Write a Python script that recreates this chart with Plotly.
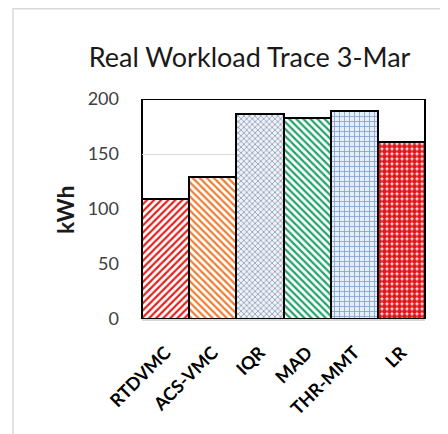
import plotly.graph_objects as go

# data
methods = ['RTDVMC', 'ACS-VMC', 'IQR', 'MAD', 'THR-MMT', 'LR']
energy_kwh = [109, 129, 186, 183, 189, 161]
y_ticks = [0, 50, 100, 150, 200]

# hatch styling per bar (fg, bg, shape)
fg_colors = ['#e0221e', '#ee7d33', '#7886a0', '#21a36b', '#7f9fcf', '#e0181c']
bg_colors = ['#ffffff', '#ffffff', '#eef3f9', '#ffffff', '#e4eef9', '#fde8e8']
shapes = ['/', '\\', 'x', '\\', '+', '.']
sizes = [5, 5, 4, 5, 5, 5]
solidity = [0.45, 0.45, 0.3, 0.45, 0.3, 0.75]

fig = go.Figure()

# one trace per bar so every bar gets its own hatch
for i, m in enumerate(methods):
    fig.add_trace(go.Bar(
        x=[m], y=[energy_kwh[i]],
        marker=dict(
            color=bg_colors[i],
            line=dict(color='#000000', width=2),
            pattern=dict(shape=shapes[i], fgcolor=fg_colors[i],
                         bgcolor=bg_colors[i], size=sizes[i],
                         solidity=solidity[i], fillmode='replace'),
        ),
        showlegend=False,
    ))

fig.update_layout(
    width=440, height=426,
    paper_bgcolor='white', plot_bgcolor='white',
    margin=dict(l=134, r=23, t=91, b=115),
    barmode='overlay', bargap=0,
    font=dict(family='Lato', color='#595959'),
    title=dict(text='Real Workload Trace 3-Mar', x=0.549, xanchor='center',
               y=0.883, yanchor='middle',
               font=dict(family='Lato', size=27, color='#1a1a1a')),
    xaxis=dict(
        categoryorder='array', categoryarray=methods,
        tickangle=-45, showgrid=False, ticklabelstandoff=14,
        tickfont=dict(family='Lato', size=18, color='#000000', weight='bold'),
        showline=True, linecolor='#d9d9d9', linewidth=2, layer='above traces',
    ),
    yaxis=dict(
        range=[0, 200], tickvals=y_ticks, showgrid=True, gridcolor='#d9d9d9',
        zeroline=False, ticklabelstandoff=22,
        tickfont=dict(family='Lato', size=18, color='#404040'),
    ),
    shapes=[
        # outline box of the plot
        dict(type='rect', xref='paper', yref='y', x0=0, x1=1, y0=0, y1=200,
             line=dict(color='#000000', width=2), layer='below'),
        # light outer frame
        dict(type='rect', xref='paper', yref='paper', x0=-0.456, x1=1.3,
             y0=-0.7, y1=1.41, line=dict(color='#d9d9d9', width=1.5),
             layer='below'),
    ],
    annotations=[
        dict(text='<b>kWh</b>', xref='paper', yref='paper', x=-0.272, y=0.495,
             xanchor='center', yanchor='middle',
             textangle=-90, showarrow=False,
             font=dict(family='Lato', size=23, color='#1a1a1a')),
    ],
)

fig.write_html('out.html')
